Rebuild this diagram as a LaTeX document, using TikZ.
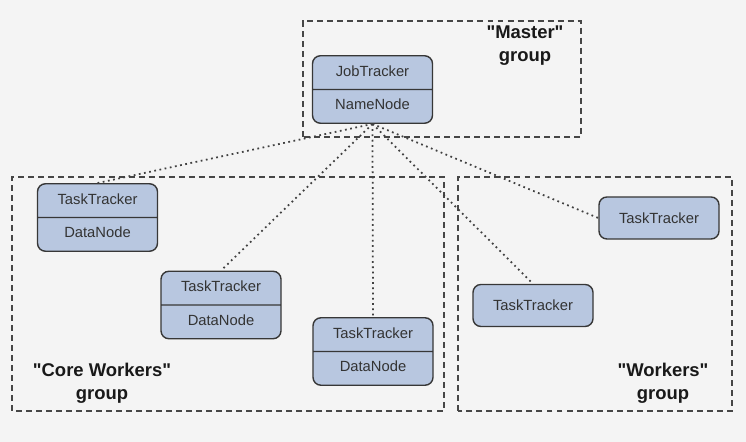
\documentclass[tikz,border=0pt]{standalone}
\usepackage{fontspec}
\setmainfont{Liberation Sans}
\usepackage{tikz}
\usetikzlibrary{shapes.multipart}

\definecolor{boxfill}{RGB}{184,199,224}
\definecolor{boxline}{RGB}{55,55,55}
\definecolor{grpline}{RGB}{70,70,70}
\definecolor{bgcolor}{RGB}{244,244,244}

\begin{document}
\begin{tikzpicture}[
    trackerbox/.style={rectangle split, rectangle split parts=2, draw=boxline,
        line width=0.8pt, fill=boxfill, rounded corners=4.5pt, text width=2.4cm,
        inner xsep=0pt, inner ysep=4.2pt, align=center,
        font=\fontsize{8.4}{10}\selectfont, text=black!80},
    singlebox/.style={draw=boxline, line width=0.8pt, fill=boxfill,
        rounded corners=4.5pt, text width=2.4cm, inner xsep=0pt,
        minimum height=0.84cm, align=center,
        font=\fontsize{8.4}{10}\selectfont, text=black!80},
    groupbox/.style={draw=grpline, line width=0.9pt, dash pattern=on 3.4pt off 2.3pt},
    grouplabel/.style={font=\fontsize{10.5}{13}\selectfont\bfseries, align=center,
        text=black!90},
    link/.style={draw=black!75, line width=1pt, dash pattern=on 1pt off 2pt}
]
    \fill[bgcolor] (0,0) rectangle (14.92,8.84);
    \useasboundingbox (0,0) rectangle (14.92,8.84);

    % groups
    \draw[groupbox] (6.06,6.10) rectangle (11.62,8.42);
    \draw[groupbox] (0.24,0.62) rectangle (8.88,5.30);
    \draw[groupbox] (9.16,0.62) rectangle (14.64,5.30);
    \node[grouplabel] (masterlbl) at (10.50,7.92) {\textquotedbl Master\textquotedbl\\group};
    \node[grouplabel] (corelbl) at (2.04,1.18) {\textquotedbl Core Workers\textquotedbl\\group};
    \node[grouplabel] (workerslbl) at (13.26,1.18) {\textquotedbl Workers\textquotedbl\\group};

    % trackers
    \node[trackerbox] (master) at (7.45,7.05) {\strut JobTracker\nodepart{two}\strut NameNode};
    \node[trackerbox] (core1) at (1.95,4.49) {\strut TaskTracker\nodepart{two}\strut DataNode};
    \node[trackerbox] (core2) at (4.42,2.74) {\strut TaskTracker\nodepart{two}\strut DataNode};
    \node[trackerbox] (core3) at (7.46,1.81) {\strut TaskTracker\nodepart{two}\strut DataNode};
    \node[singlebox] (worker1) at (13.18,4.48) {TaskTracker};
    \node[singlebox] (worker2) at (10.66,2.73) {TaskTracker};

    % links
    \draw[link] (master.south) -- (core1.north);
    \draw[link] (master.south) -- (core2.north);
    \draw[link] (master.south) -- (core3.north);
    \draw[link] (master.south) -- (worker2.north);
    \draw[link] (master.south) -- (worker1.west);
\end{tikzpicture}
\end{document}
